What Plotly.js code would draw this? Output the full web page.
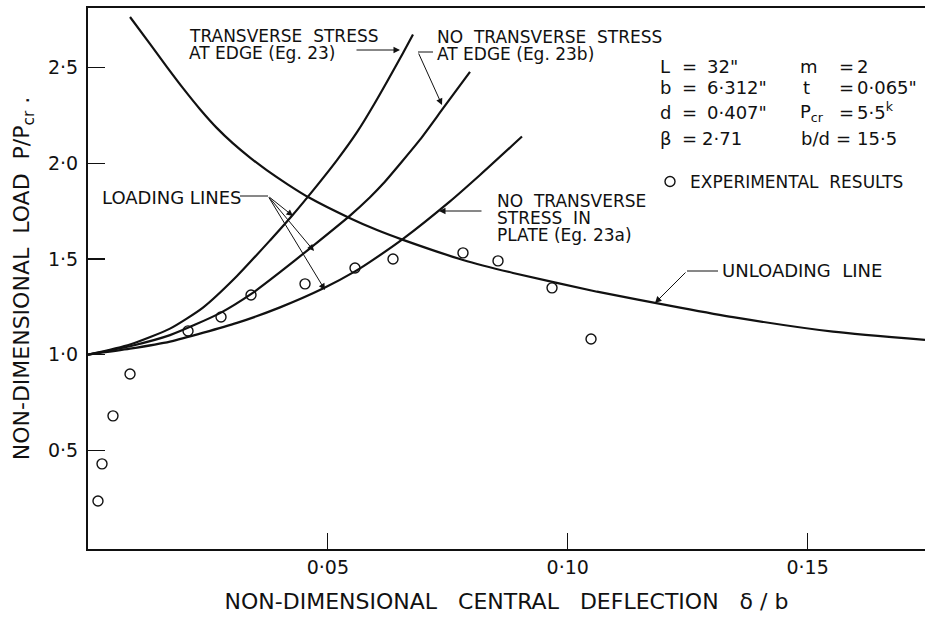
<!DOCTYPE html>
<html>
<head>
<meta charset="utf-8">
<script src="https://cdn.plot.ly/plotly-3.0.1.min.js"></script>
<style>html,body{margin:0;padding:0;background:#fff}#chart{width:931px;height:623px}</style>
</head>
<body>
<div id="chart"></div>
<script>
// ---------------- data ----------------
const unloadX = [0.00876,0.01292,0.01647,0.01980,0.02335,0.02689,0.03023,0.03377,0.03732,0.04169,0.04607,0.05462,0.06025,0.06567,0.07817,0.08860,0.10611,0.12341,0.13446,0.15531,0.17448];
const unloadY = [2.765,2.624,2.503,2.393,2.283,2.184,2.104,2.030,1.963,1.889,1.821,1.713,1.651,1.600,1.495,1.427,1.329,1.246,1.196,1.120,1.077];

const eq23X = [0,0.00876,0.01709,0.02397,0.03106,0.03794,0.04253,0.04586,0.05191,0.05608,0.05983,0.06567,0.06775];
const eq23Y = [1.0,1.053,1.136,1.246,1.411,1.597,1.726,1.826,2.017,2.163,2.317,2.577,2.673];

const eq23bX = [0,0.00876,0.01709,0.02752,0.03419,0.04003,0.04628,0.05462,0.05879,0.06150,0.06921,0.07400,0.07963];
const eq23bY = [1.0,1.044,1.102,1.217,1.320,1.431,1.556,1.727,1.823,1.893,2.124,2.287,2.478];

const eq23aX = [0,0.00876,0.01709,0.03106,0.04003,0.04920,0.05566,0.05879,0.06567,0.07546,0.08172,0.09047];
const eq23aY = [1.0,1.031,1.068,1.166,1.247,1.348,1.435,1.485,1.605,1.801,1.939,2.140];

const expX = [0.00208,0.00292,0.00521,0.00876,0.02085,0.02773,0.03398,0.04524,0.05566,0.06358,0.07817,0.08547,0.09673,0.10486];
const expY = [0.235,0.429,0.680,0.899,1.124,1.197,1.312,1.370,1.453,1.500,1.532,1.490,1.349,1.082];

const xTickVals = [0.05,0.10,0.15];
const xTickText = ['0·05','0·10','0·15'];
const yTickVals = [0.5,1.0,1.5,2.0,2.5];
const yTickText = ['0·5','1·0','1·5','2·0','2·5'];

// ---------------- layout helpers ----------------
const W = 931, H = 623;
const M = {l:88, r:6, t:8, b:74};
const PW = W - M.l - M.r, PH = H - M.t - M.b;
const px = p => (p - M.l) / PW;          // pixel -> paper x
const py = p => 1 - (p - M.t) / PH;      // pixel -> paper y
const FONT = 'DejaVu Sans';
const INK = '#111';
const NB = '\u00a0';

function lineTrace(x, y, name){
  return {x:x, y:y, name:name, mode:'lines', type:'scatter', showlegend:false,
          line:{color:INK, width:2.2, shape:'spline', smoothing:0.6}, hoverinfo:'skip'};
}

const traces = [
  lineTrace(unloadX, unloadY, 'Unloading line'),
  lineTrace(eq23X, eq23Y, 'Transverse stress at edge (Eq. 23)'),
  lineTrace(eq23bX, eq23bY, 'No transverse stress at edge (Eq. 23b)'),
  lineTrace(eq23aX, eq23aY, 'No transverse stress in plate (Eq. 23a)'),
  {x:expX, y:expY, name:'EXPERIMENTAL' + NB + NB + 'RESULTS', mode:'markers', type:'scatter', showlegend:true,
   marker:{symbol:'circle-open', size:10, color:INK, line:{width:1.4, color:INK}}}
];

function txt(t, x, y, size){
  return {text:t, xref:'paper', yref:'paper', x:px(x), y:py(y), xanchor:'left', yanchor:'middle',
          showarrow:false, font:{family:FONT, size:size||18, color:INK}};
}
function arrow(tipX, tipY, tailX, tailY){
  return {text:'', xref:'paper', yref:'paper', x:px(tipX), y:py(tipY), ax:tailX - tipX, ay:tailY - tipY,
          showarrow:true, arrowhead:2, arrowsize:1.3, arrowwidth:1, arrowcolor:INK, standoff:0, startstandoff:0};
}
function seg(x0, y0, x1, y1){
  return {type:'line', xref:'paper', yref:'paper', x0:px(x0), y0:py(y0), x1:px(x1), y1:py(y1),
          line:{color:INK, width:1}};
}

const annotations = [
  txt('TRANSVERSE' + NB + NB + 'STRESS', 187, 36, 17),
  txt('AT EDGE (Eg. 23)', 187, 53, 17),
  arrow(400, 50, 355, 50),

  txt('NO' + NB + NB + 'TRANSVERSE' + NB + NB + 'STRESS', 435, 37, 17),
  txt('AT EDGE (Eg. 23b)', 435, 54, 17),
  arrow(442, 105, 418, 52),

  txt('LOADING LINES', 100, 197),
  arrow(293, 216, 268, 196),
  arrow(314, 251, 268, 196),
  arrow(325, 290, 268, 196),

  txt('NO' + NB + NB + 'TRANSVERSE', 495, 201, 17),
  txt('STRESS' + NB + NB + 'IN', 495, 218, 17),
  txt('PLATE (Eg. 23a)', 495, 235, 17),
  arrow(439, 211, 483, 211),

  txt('UNLOADING' + NB + NB + 'LINE', 720, 271),
  arrow(655, 303, 687, 271),

  // parameter block
  txt('L', 658, 66), txt('=', 680, 66), txt('32"', 705, 66),
  txt('b', 658, 88), txt('=', 680, 88), txt('6·312"', 705, 88),
  txt('d', 658, 112), txt('=', 680, 112), txt('0·407"', 705, 112),
  txt('β', 658, 139), txt('=', 680, 139), txt('2·71', 700, 139),
  txt('m', 798, 66), txt('=', 837, 66), txt('2', 855, 66),
  txt('t', 801, 88), txt('=', 837, 88), txt('0·065"', 855, 88),
  txt('P<sub>cr</sub>', 798, 113), txt('=', 837, 112), txt('5·5<sup>k</sup>', 855, 111),
  txt('b/d', 799, 139), txt('=', 834, 139), txt('15·5', 855, 139)
];

const shapes = [
  seg(418, 52, 433, 52),
  seg(240, 196, 268, 196),
  seg(687, 271, 718, 271)
];

const S3 = NB + NB + NB;
const layout = {
  width:W, height:H, margin:M,
  paper_bgcolor:'#fff', plot_bgcolor:'#fff',
  font:{family:FONT, color:INK},
  showlegend:true,
  legend:{x:px(650), y:py(182), xanchor:'left', yanchor:'middle', bgcolor:'rgba(0,0,0,0)',
          font:{family:FONT, size:17, color:INK}, itemwidth:30, borderwidth:0},
  xaxis:{range:[0, 0.17448], showline:true, linewidth:2, linecolor:INK, mirror:true,
         ticks:'inside', ticklen:16, tickwidth:1.2, tickcolor:INK,
         tickvals:xTickVals, ticktext:xTickText, tickfont:{family:FONT, size:19, color:INK},
         ticklabelstandoff:0,
         showgrid:false, zeroline:false, fixedrange:true,
         title:{text:'NON-DIMENSIONAL' + S3 + 'CENTRAL' + S3 + 'DEFLECTION' + S3 + 'δ' + NB + '/' + NB + 'b',
                font:{family:FONT, size:22, color:INK}, standoff:17}},
  yaxis:{range:[-0.016, 2.812], showline:true, linewidth:2, linecolor:INK, mirror:false,
         ticks:'inside', ticklen:17, tickwidth:1.2, tickcolor:INK,
         tickvals:yTickVals, ticktext:yTickText, tickfont:{family:FONT, size:19, color:INK},
         ticklabelstandoff:4,
         showgrid:false, zeroline:false, fixedrange:true,
         title:{text:'NON-DIMENSIONAL' + NB + NB + 'LOAD' + NB + NB + 'P/P<sub>cr</sub>' + NB + '.',
                font:{family:FONT, size:22, color:INK}, standoff:12}},
  annotations:annotations,
  shapes:shapes
};

Plotly.newPlot('chart', traces, layout, {staticPlot:true, displayModeBar:false});
</script>
</body>
</html>
